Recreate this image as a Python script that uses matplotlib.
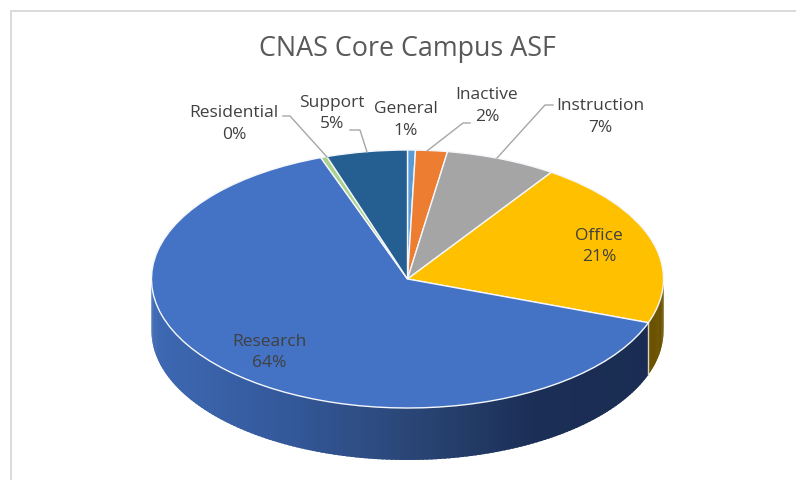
import numpy as np
import matplotlib
matplotlib.use("Agg")
import matplotlib.pyplot as plt
from matplotlib.colors import LinearSegmentedColormap

categories = ["General", "Inactive", "Instruction", "Office", "Research", "Residential", "Support"]
values = [0.5, 2.0, 7.0, 21.0, 64.0, 0.4, 5.1]
pct_labels = ["1%", "2%", "7%", "21%", "64%", "0%", "5%"]
colors = ["#5B9BD5", "#ED7D31", "#A5A5A5", "#FFC000", "#4472C4", "#A9D18E", "#255E91"]
title = "CNAS Core Campus ASF"

W, H = 796, 480
CX, CY, RX, RY, DEPTH = 407.5, 279, 256, 129, 52

plt.rcParams['font.family'] = ['Open Sans', 'DejaVu Sans']
fig = plt.figure(figsize=(W / 100, H / 100), dpi=100, facecolor="white")

# pie axes: unit circle squashed into an ellipse
ax = fig.add_axes([0, 0, 1, 1])
y_scale = DEPTH / RY

# side wall, drawn from the same values
frac = np.cumsum([0] + values) / sum(values)
edges = frac * 2 * np.pi  # clockwise from the top
blue_cm = LinearSegmentedColormap.from_list("b", ["#1A2C52", "#1B2E55", "#2A4676", "#34599B", "#3D69B3"])
for i, c in enumerate(categories):
    a0, a1 = edges[i], edges[i + 1]
    n = max(2, int(np.degrees(a1 - a0)))
    th = np.linspace(a0, a1, n + 1)
    for t0, t1 in zip(th[:-1], th[1:]):
        tm = (t0 + t1) / 2
        if np.cos(tm) > 0.02:
            continue
        if c == "Research":
            col = blue_cm(np.clip((1 - np.sin(tm)) / 2, 0, 1))
        else:
            col = "#6B5200"
        t0e = max(t0 - 0.012, a0)
        xs = [np.sin(t0e), np.sin(t1), np.sin(t1), np.sin(t0e)]
        ys = [np.cos(t0e), np.cos(t1), np.cos(t1) - y_scale, np.cos(t0e) - y_scale]
        ax.fill(xs, ys, facecolor=col, edgecolor="none", lw=0, zorder=1)
    if c == "Office":
        ax.plot([np.sin(a1)] * 2, [np.cos(a1), np.cos(a1) - y_scale], color="#D9D4C4", lw=1.0, zorder=2)

wedges, _ = ax.pie(values, colors=colors, startangle=90, counterclock=False,
                   wedgeprops=dict(edgecolor="#F4F7FB", linewidth=1.0, zorder=3))
ax.set_aspect("auto")
ax.set_xlim((0 - CX) / RX, (W - CX) / RX)
ax.set_ylim((CY - H) / RY, CY / RY)
ax.axis("off")

# overlay in image pixels for frame, leaders and labels
ov = fig.add_axes([0, 0, 1, 1], facecolor="none")
ov.set_xlim(0, W)
ov.set_ylim(H, 0)
ov.axis("off")

ov.plot([10.5, 10.5, 796], [480, 10.5, 10.5], color="#DADADA", lw=1.4, zorder=1)

leader = "#A6A6A6"
ov.plot([283, 290, 327], [116, 116, 157], color=leader, lw=1.0)
ov.plot([350, 360, 367], [130, 130, 152], color=leader, lw=1.0)
ov.plot([470, 463, 427], [123, 123, 151], color=leader, lw=1.0)
ov.plot([553, 545, 497], [105, 105, 158], color=leader, lw=1.0)

ov.text(407.5, 49, title, ha="center", va="center", fontsize=19.4, color="#595959")
label_pos = [(406, 120), (487, 106), (600, 117), (599, 246.5), (269, 352.5), (234, 124), (332, 113.5)]
for name, pct, (x, y) in zip(categories, pct_labels, label_pos):
    ov.text(x, y, f"{name}\n{pct}", ha="center", va="center", fontsize=12.5,
            color="#404040", linespacing=1.42, zorder=5)

fig.savefig("out.png", dpi=100, facecolor="white")
